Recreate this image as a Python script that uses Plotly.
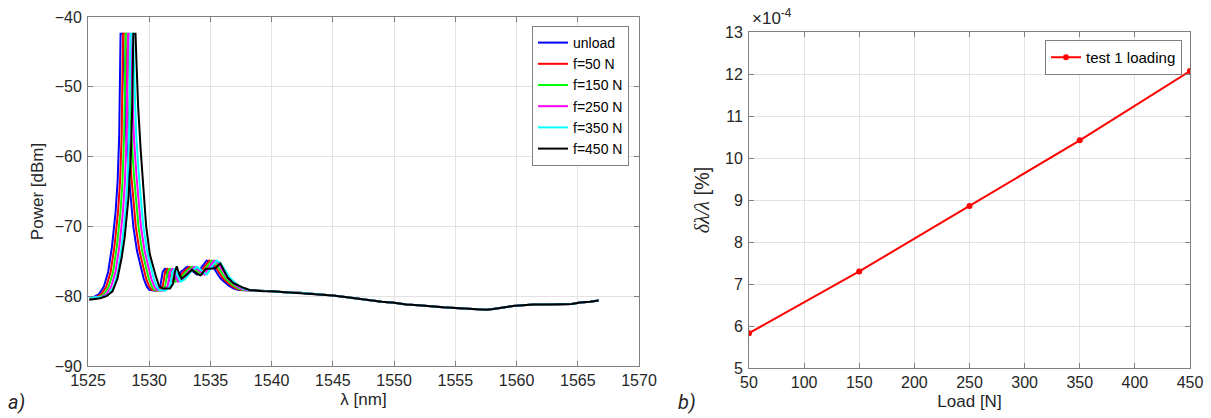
import plotly.graph_objects as go

# ---------------- data: left panel (spectra) ----------------
series_names = ["unload", "f=50 N", "f=150 N", "f=250 N", "f=350 N", "f=450 N"]
series_colors = ["#0000ff", "#ff0000", "#00ff00", "#ff00ff", "#00ffff", "#000000"]

peak_power = [-80.2, -80.1, -79.7, -78.6, -76.5, -73.0, -68.0, -63.5, -57.0, -42.4,
              -42.4, -50.0, -57.0, -63.0, -70.0, -73.5, -75.8, -77.5, -78.6, -79.1,
              -79.2, -78.6, -76.5, -76.0, -77.0, -77.9, -77.6, -76.5, -75.8, -76.3,
              -76.9, -75.8, -74.9, -75.2, -76.4, -77.4, -77.9, -78.5, -78.9, -79.1]

unload_lambda = [1525.1, 1525.5, 1525.9, 1526.3, 1526.65, 1526.95, 1527.25, 1527.42, 1527.55, 1527.66,
                 1527.85, 1527.97, 1528.12, 1528.35, 1528.7, 1529.0, 1529.3, 1529.55, 1529.8, 1530.0,
                 1530.5, 1530.9, 1531.1, 1531.3, 1531.5, 1531.75, 1532.1, 1532.6, 1533.1, 1533.5,
                 1533.9, 1534.3, 1534.7, 1535.0, 1535.4, 1535.8, 1536.1, 1536.5, 1536.9, 1537.3]
f50_lambda = [1525.1, 1525.7, 1526.1, 1526.5, 1526.85, 1527.15, 1527.45, 1527.62, 1527.75, 1527.86,
              1528.05, 1528.17, 1528.32, 1528.55, 1528.9, 1529.2, 1529.5, 1529.75, 1530.0, 1530.2,
              1530.7, 1531.1, 1531.3, 1531.5, 1531.7, 1531.95, 1532.3, 1532.8, 1533.3, 1533.7,
              1534.1, 1534.5, 1534.9, 1535.2, 1535.6, 1536.0, 1536.3, 1536.7, 1537.1, 1537.5]
f150_lambda = [1525.1, 1525.9, 1526.3, 1526.7, 1527.05, 1527.35, 1527.65, 1527.82, 1527.95, 1528.08,
               1528.27, 1528.39, 1528.54, 1528.77, 1529.12, 1529.42, 1529.72, 1529.97, 1530.22, 1530.4,
               1530.9, 1531.3, 1531.5, 1531.7, 1531.9, 1532.15, 1532.5, 1533.0, 1533.5, 1533.9,
               1534.3, 1534.7, 1535.1, 1535.4, 1535.8, 1536.2, 1536.5, 1536.9, 1537.3, 1537.7]
f250_lambda = [1525.1, 1526.1, 1526.5, 1526.9, 1527.25, 1527.55, 1527.85, 1528.02, 1528.15, 1528.28,
               1528.47, 1528.59, 1528.74, 1528.97, 1529.32, 1529.62, 1529.92, 1530.17, 1530.42, 1530.6,
               1531.1, 1531.5, 1531.7, 1531.9, 1532.1, 1532.35, 1532.7, 1533.2, 1533.7, 1534.1,
               1534.5, 1534.9, 1535.3, 1535.6, 1536.0, 1536.4, 1536.7, 1537.1, 1537.5, 1537.9]
f350_lambda = [1525.1, 1526.3, 1526.7, 1527.1, 1527.45, 1527.75, 1528.05, 1528.22, 1528.35, 1528.48,
               1528.67, 1528.79, 1528.94, 1529.17, 1529.52, 1529.82, 1530.12, 1530.37, 1530.62, 1530.8,
               1531.3, 1531.7, 1531.9, 1532.1, 1532.3, 1532.55, 1532.9, 1533.4, 1533.9, 1534.3,
               1534.7, 1535.1, 1535.5, 1535.8, 1536.2, 1536.6, 1536.9, 1537.3, 1537.7, 1538.1]

f450_lambda = [1525.1, 1525.5, 1526.0, 1526.5, 1527.0, 1527.4, 1527.75, 1528.0, 1528.3, 1528.5,
               1528.62, 1528.7, 1528.88, 1528.97, 1529.1, 1529.3, 1529.75, 1530.05, 1530.3, 1530.55,
               1530.8, 1531.1, 1531.7, 1531.95, 1532.1, 1532.25, 1532.4, 1532.65, 1533.0, 1533.5,
               1533.9, 1534.2, 1534.6, 1535.0, 1535.4, 1535.8, 1536.1, 1536.4, 1536.85, 1537.3,
               1537.7, 1538.2]
f450_power = [-80.5, -80.4, -80.3, -80.0, -79.3, -77.5, -74.5, -71.5, -66.0, -60.0,
              -52.0, -42.4, -42.4, -47.0, -53.0, -59.0, -70.0, -74.0, -75.8, -77.2,
              -78.5, -78.9, -78.9, -78.2, -76.5, -75.7, -76.6, -77.5, -77.0, -76.2,
              -76.8, -77.0, -76.1, -76.0, -76.0, -75.3, -76.3, -77.3, -78.1, -78.5,
              -78.8, -79.1]

tail_lambda = [1538.6, 1539.3, 1540.0, 1540.8, 1541.5, 1542.3, 1543.1, 1544.0, 1545.0, 1546.0,
               1547.2, 1548.0, 1549.0, 1550.0, 1551.0, 1552.0, 1553.0, 1554.0, 1555.0, 1556.0,
               1556.8, 1557.5, 1558.1, 1559.0, 1559.7, 1560.5, 1561.4, 1562.5, 1563.6, 1564.5,
               1565.2, 1566.0, 1566.7]
tail_power = [-79.2, -79.3, -79.3, -79.4, -79.5, -79.5, -79.6, -79.8, -79.9, -80.1,
              -80.4, -80.6, -80.8, -80.95, -81.2, -81.3, -81.5, -81.6, -81.7, -81.8,
              -81.9, -81.95, -81.85, -81.6, -81.4, -81.3, -81.2, -81.2, -81.1, -81.1,
              -80.9, -80.8, -80.6]

series_lambda = [unload_lambda, f50_lambda, f150_lambda, f250_lambda, f350_lambda, f450_lambda]
series_power = [peak_power, peak_power, peak_power, peak_power, peak_power, f450_power]

# ---------------- data: right panel ----------------
load_N = [50, 150, 250, 350, 450]
rel_shift = [5.83e-4, 7.30e-4, 8.86e-4, 10.42e-4, 12.07e-4]
x_ticks_right = [50, 100, 150, 200, 250, 300, 350, 400, 450]
y_ticks_right = [5, 6, 7, 8, 9, 10, 11, 12, 13]

# ---------------- figure ----------------
W, H = 1211, 418
fig = go.Figure()

for name, col, lam, pw in zip(series_names, series_colors, series_lambda, series_power):
    fig.add_trace(go.Scatter(
        x=lam + tail_lambda, y=pw + tail_power, mode="lines", name=name,
        line=dict(color=col, width=2), xaxis="x", yaxis="y", legend="legend"))

fig.add_trace(go.Scatter(
    x=load_N, y=[v * 1e4 for v in rel_shift], mode="lines+markers", name="test 1 loading",
    line=dict(color="#ff0000", width=2), marker=dict(color="#ff0000", size=6),
    xaxis="x2", yaxis="y2", legend="legend2"))

SANS = "Liberation Sans, Arial, sans-serif"
tickfont = dict(family=SANS, size=16, color="#262626")
axis_common = dict(showline=True, linecolor="#808080", linewidth=1, mirror="ticks",
                   ticks="inside", ticklen=5, tickcolor="#808080",
                   showgrid=True, gridcolor="#e3e3e3", gridwidth=1,
                   zeroline=False, tickfont=tickfont, automargin=False)

fig.update_layout(
    width=W, height=H, margin=dict(l=0, r=0, t=0, b=0),
    paper_bgcolor="white", plot_bgcolor="white",
    font=dict(family=SANS, color="#262626"),
    xaxis=dict(domain=[88 / W, 639 / W], range=[1525, 1570], dtick=5, anchor="y",
               ticklabelstandoff=0,
               title=dict(text="λ [nm]", font=dict(size=17), standoff=4), **axis_common),
    yaxis=dict(domain=[1 - 366 / H, 1 - 17 / H], range=[-90, -40], dtick=10, anchor="x",
               ticklabelstandoff=2,
               title=dict(text="Power [dBm]", font=dict(size=17), standoff=6), **axis_common),
    xaxis2=dict(domain=[749 / W, 1190 / W], range=[50, 450], tickvals=x_ticks_right, anchor="y2",
                ticklabelstandoff=0,
                title=dict(text="Load [N]", font=dict(size=17), standoff=4), **axis_common),
    yaxis2=dict(domain=[1 - 368 / H, 1 - 32 / H], range=[5, 13], tickvals=y_ticks_right, anchor="x2",
                ticklabelstandoff=2,
                title=dict(text='<span style="font-family:Liberation Serif"><i>δλ/λ</i></span> [%]',
                           font=dict(size=20, family=SANS), standoff=10), **axis_common),
    legend=dict(x=629 / W, y=1 - 26 / H, xanchor="right", yanchor="top",
                bgcolor="white", bordercolor="#808080", borderwidth=1,
                font=dict(size=14, color="#000000"), itemwidth=30, tracegroupgap=0),
    legend2=dict(x=1182 / W, y=1 - 40 / H, xanchor="right", yanchor="top",
                 bgcolor="white", bordercolor="#808080", borderwidth=1,
                 font=dict(size=15, color="#000000"), itemwidth=30),
    showlegend=True,
)

fig.add_annotation(text="×10<sup>-4</sup>", xref="paper", yref="paper",
                   x=750 / W, y=1 - 30 / H, xanchor="left", yanchor="bottom",
                   showarrow=False, font=dict(size=17, color="#262626"))
fig.add_annotation(text="<i>a)</i>", xref="paper", yref="paper",
                   x=6 / W, y=1 - 416 / H, xanchor="left", yanchor="bottom",
                   showarrow=False, font=dict(size=20, color="#262626", family="Roboto, sans-serif"))
fig.add_annotation(text="<i>b)</i>", xref="paper", yref="paper",
                   x=676 / W, y=1 - 416 / H, xanchor="left", yanchor="bottom",
                   showarrow=False, font=dict(size=20, color="#262626", family="Roboto, sans-serif"))

fig.write_html("out.html", config={"displayModeBar": False},
               post_script="document.body.style.margin='0';document.body.style.overflow='hidden';")
